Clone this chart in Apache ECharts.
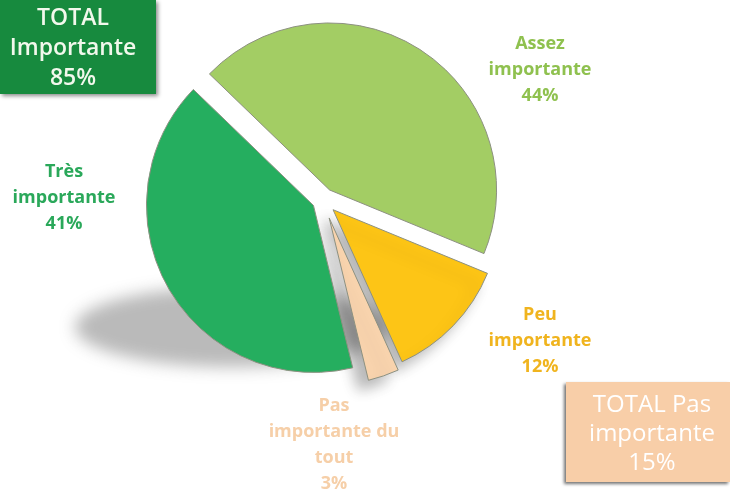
<!DOCTYPE html>
<html><head><meta charset="utf-8">
<script src="https://cdn.jsdelivr.net/npm/echarts@6/dist/echarts.min.js"></script>
<style>html,body{margin:0;padding:0;background:#fff}#c{width:730px;height:496px}</style>
</head><body><div id="c"></div>
<script>
// ---- data ----
const categories = ['Assez\nimportante', 'Peu\nimportante', 'Pas\nimportante du\ntout', 'Très\nimportante'];
const values = [44, 12, 3, 41];
const totalLabels = ['TOTAL\nImportante', 'TOTAL Pas\nimportante'];
const totalValues = [85, 15];

// ---- style / layout ----
const colors = ['#a3cd64', '#fdc516', '#f9d4ae', '#25ae5f'];
const labelColors = ['#8fc14f', '#f0b41e', '#f6cfa8', '#2aa85a'];
const explode = [12, 14, 19, 11];
const baseCenter = [323, 200];
const radius = 167;
const startCompass = -46; // degrees clockwise from 12 o'clock
const labelPos = [[540, 70], [540, 341], [334, 445], [64, 198]];
const shadowOn = [false, true, true, false];

const chart = echarts.init(document.getElementById('c'));
const total = values.reduce((a, b) => a + b, 0);
let acc = 0;
const series = values.map((v, i) => {
  const mid = startCompass + (acc + v / 2) / total * 360;
  acc += v;
  const rad = mid * Math.PI / 180;
  const cx = baseCenter[0] + explode[i] * Math.sin(rad);
  const cy = baseCenter[1] - explode[i] * Math.cos(rad);
  const shadow = shadowOn[i]
    ? { shadowBlur: 14, shadowColor: 'rgba(0,0,0,0.28)', shadowOffsetX: -10, shadowOffsetY: 10 }
    : { shadowBlur: 0, shadowColor: 'rgba(0,0,0,0)', shadowOffsetX: 0, shadowOffsetY: 0 };
  return {
    type: 'pie',
    radius: radius,
    center: [cx, cy],
    startAngle: 90 - startCompass,
    clockwise: true,
    avoidLabelOverlap: false,
    silent: true,
    animation: false,
    z: i === 0 ? 3 : 2,
    labelLine: { show: false },
    labelLayout: (p) => ({ x: labelPos[i][0], y: labelPos[i][1], align: 'center', verticalAlign: 'middle' }),
    data: categories.map((name, j) => ({
      name: name,
      value: values[j],
      itemStyle: j === i
        ? Object.assign({ color: colors[j], borderColor: '#8d9181', borderWidth: 1 }, shadow)
        : { color: 'rgba(0,0,0,0)', borderWidth: 0, shadowColor: 'rgba(0,0,0,0)', shadowBlur: 0 },
      label: j === i ? {
        show: true, position: 'outside',
        formatter: '{b}\n{c}%', color: labelColors[j],
        fontFamily: 'Open Sans', fontWeight: 'bold', fontSize: 18, lineHeight: 26, align: 'center'
      } : { show: false }
    }))
  };
});

chart.setOption({
  backgroundColor: '#fff',
  series: series,
  graphic: [
    // soft projected shadow under the pie (drawn off-canvas, shadow shifted back in)
    { type: 'ellipse', shape: { cx: 232 - 2000, cy: 327, rx: 157, ry: 40 }, z: 0, silent: true,
      style: { fill: '#000', shadowColor: 'rgba(110,110,110,0.48)', shadowBlur: 16, shadowOffsetX: 2000, shadowOffsetY: 0 } },
    { type: 'rect', left: 0, top: 0, shape: { width: 156, height: 94 }, z: 10,
      style: { fill: '#178a3e', shadowBlur: 4, shadowColor: 'rgba(0,0,0,0.45)', shadowOffsetX: 2, shadowOffsetY: 2 } },
    { type: 'text', x: 73, y: 48, z: 11,
      style: { text: totalLabels[0] + '\n' + totalValues[0] + '%', fill: '#f2f8ec', font: '600 23px "Open Sans"', lineHeight: 30, align: 'center', verticalAlign: 'middle' } },
    { type: 'rect', x: 566, y: 382, shape: { width: 164, height: 100 }, z: 10,
      style: { fill: '#f8cea8', shadowBlur: 3, shadowColor: 'rgba(0,0,0,0.55)', shadowOffsetX: -2, shadowOffsetY: 2 } },
    { type: 'text', x: 652, y: 434, z: 11,
      style: { text: totalLabels[1] + '\n' + totalValues[1] + '%', fill: '#ffffff', font: '24px "Open Sans"', lineHeight: 29, align: 'center', verticalAlign: 'middle' } }
  ]
});
</script></body></html>
